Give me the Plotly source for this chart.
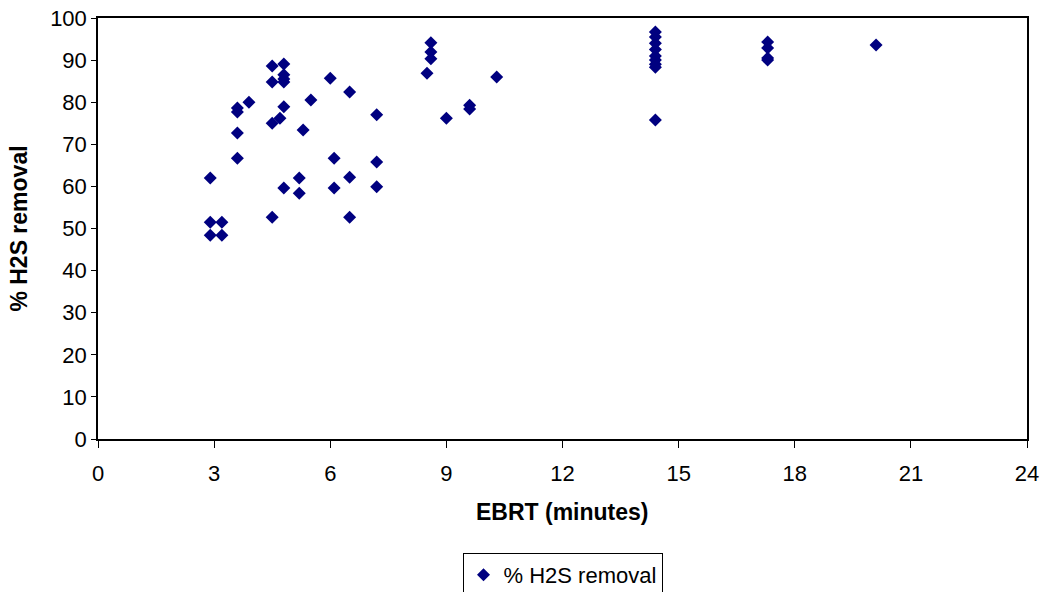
import plotly.graph_objects as go

# Empty bed residence time (minutes) and corresponding H2S removal (%)
ebrt_min = [
    2.9, 2.9, 3.2, 2.9, 3.2,
    3.6, 3.6, 3.6, 3.6, 3.9,
    4.5, 4.5, 4.5, 4.5, 4.7,
    4.8, 4.8, 4.8, 4.8, 4.8, 4.8,
    5.2, 5.2, 5.3, 5.5,
    6.0, 6.1, 6.1,
    6.5, 6.5, 6.5,
    7.2, 7.2, 7.2,
    8.5, 8.6, 8.6, 8.6,
    9.0, 9.6, 9.6, 10.3,
    14.4, 14.4, 14.4, 14.4, 14.4, 14.4, 14.4, 14.4, 14.4,
    17.3, 17.3, 17.3, 17.3,
    20.1,
]
h2s_removal_pct = [
    62.0, 51.5, 51.5, 48.4, 48.4,
    78.6, 77.7, 72.7, 66.7, 80.0,
    88.6, 84.8, 75.0, 52.7, 76.2,
    89.1, 86.5, 85.5, 84.8, 78.9, 59.6,
    62.0, 58.4, 73.4, 80.5,
    85.7, 66.7, 59.6,
    82.4, 62.2, 52.7,
    77.0, 65.8, 59.9,
    86.9, 94.1, 91.9, 90.3,
    76.2, 79.3, 78.4, 86.0,
    96.7, 95.5, 94.0, 92.5, 91.0, 90.0, 89.0, 88.3, 75.8,
    94.3, 92.9, 90.5, 90.0,
    93.6,
]

x_ticks = [0, 3, 6, 9, 12, 15, 18, 21, 24]
y_ticks = [0, 10, 20, 30, 40, 50, 60, 70, 80, 90, 100]

font_family = "Liberation Sans, Arial, sans-serif"

fig = go.Figure()
fig.add_trace(go.Scatter(
    x=ebrt_min,
    y=h2s_removal_pct,
    mode="markers",
    name="% H2S removal",
    marker=dict(symbol="diamond", size=10, color="#000080",
                line=dict(width=0)),
))

axis_common = dict(
    showgrid=False,
    zeroline=False,
    showline=True,
    linecolor="black",
    linewidth=1.5,
    mirror=True,
    ticks="outside",
    tickwidth=1,
    tickcolor="black",
    automargin=False,
    tickfont=dict(family=font_family, size=22, color="black"),
)

fig.update_xaxes(range=[0, 24], tickvals=x_ticks, ticklen=7,
                 ticklabelstandoff=7, **axis_common)
fig.update_yaxes(range=[0, 100], tickvals=y_ticks, ticklen=5,
                 **axis_common)

# Axis titles as annotations for exact placement
fig.add_annotation(
    text="<b>EBRT (minutes)</b>",
    xref="paper", yref="paper",
    x=0.5, y=-0.173,
    xanchor="center", yanchor="middle",
    showarrow=False,
    font=dict(family=font_family, size=23, color="black"),
)
fig.add_annotation(
    text="<b>% H2S removal</b>",
    xref="paper", yref="paper",
    x=-0.086, y=0.5,
    xanchor="center", yanchor="middle",
    textangle=-90,
    showarrow=False,
    font=dict(family=font_family, size=23, color="black"),
)

fig.update_layout(
    width=1050,
    height=592,
    margin=dict(l=98, r=23, t=18, b=153),
    paper_bgcolor="white",
    plot_bgcolor="white",
    font=dict(family=font_family, size=22, color="black"),
    showlegend=True,
    legend=dict(
        orientation="h",
        x=0.5, xanchor="center",
        yref="container",
        y=(592 - 553) / 592, yanchor="top",
        bordercolor="black",
        borderwidth=1,
        bgcolor="white",
        font=dict(family=font_family, size=22, color="black"),
    ),
)

fig.write_html("out.html")
